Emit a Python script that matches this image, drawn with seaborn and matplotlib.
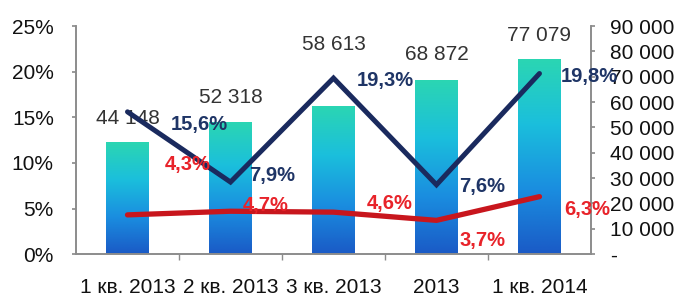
import numpy as np
import pandas as pd
import matplotlib
matplotlib.use('Agg')
import matplotlib.pyplot as plt
from matplotlib.colors import LinearSegmentedColormap
import seaborn as sns

periods = ['1 кв. 2013', '2 кв. 2013', '3 кв. 2013', '2013', '1 кв. 2014']
volume = [44148, 52318, 58613, 68872, 77079]
growth_blue = [15.6, 7.9, 19.3, 7.6, 19.8]
growth_red = [4.3, 4.7, 4.6, 3.7, 6.3]

volume_ticks = [0, 10000, 20000, 30000, 40000, 50000, 60000, 70000, 80000, 90000]
pct_ticks = [0, 5, 10, 15, 20, 25]

# label offsets in pixels (dx, dy) from the data point
volume_offsets = [(0, 24), (0, 24), (0, 61), (0, 25), (0, 23)]
blue_offsets = [(72, -13), (42, 7), (52, -2), (46, -2), (50, -3)]
red_offsets = [(60, 50), (35, 6), (56, 9), (46, -20), (48, -13)]

NAVY = '#1a2a5e'
NAVY_TXT = '#1f3566'
RED = '#c8161d'
RED_TXT = '#e8232a'
GRAY = '#8c8c8c'
FS = 15

sns.set_theme(style='white')
plt.rcParams['font.family'] = ['Liberation Sans', 'DejaVu Sans']

df = pd.DataFrame({'period': periods, 'volume': volume,
                   'blue': growth_blue, 'red': growth_red})

fig = plt.figure(figsize=(6.81, 3.0), dpi=100)
ax = fig.add_axes([0.1116, 0.153, 0.7562, 0.760])

sns.barplot(data=df, x='period', y='volume', ax=ax, width=0.41,
            color='#1a8fe0', saturation=1)

# vertical gradient inside each bar
grad_cmap = LinearSegmentedColormap.from_list(
    'bar', ['#1a5ac6', '#1a8ee0', '#1bbfdc', '#2bd6b2'])
grad = np.linspace(0, 1, 256).reshape(-1, 1)
for patch in list(ax.patches):
    x0, w, h = patch.get_x(), patch.get_width(), patch.get_height()
    img = ax.imshow(grad, extent=[x0, x0 + w, 0, h], origin='lower',
                    aspect='auto', cmap=grad_cmap, zorder=2)
    img.set_clip_path(patch)
    patch.set_facecolor('none')
    patch.set_edgecolor('none')
ax.set_ylim(0, 90000)
ax.set_xlim(-0.5, 4.5)
ax.set_xlabel('')
ax.set_ylabel('')

for i, v in enumerate(volume):
    ax.annotate(f'{v:,}'.replace(',', ' '), (i, v),
                xytext=volume_offsets[i], textcoords='offset pixels',
                ha='center', va='center', fontsize=FS, color='#333333',
                zorder=6)

ax2 = ax.twinx()
sns.lineplot(x=list(range(len(periods))), y=growth_blue, ax=ax2,
             color=NAVY, lw=3.6, solid_capstyle='round',
             solid_joinstyle='miter')
sns.lineplot(x=list(range(len(periods))), y=growth_red, ax=ax2,
             color=RED, lw=3.8, solid_capstyle='round')
ax2.set_ylim(0, 25)
ax2.set_xlim(-0.5, 4.5)
ax2.set_ylabel('')

for i, v in enumerate(growth_blue):
    ax2.annotate(f'{v}%'.replace('.', ','), (i, v),
                 xytext=blue_offsets[i], textcoords='offset pixels',
                 ha='center', va='center', fontsize=FS - 0.5,
                 fontweight='bold', color=NAVY_TXT)
for i, v in enumerate(growth_red):
    ax2.annotate(f'{v}%'.replace('.', ','), (i, v),
                 xytext=red_offsets[i], textcoords='offset pixels',
                 ha='center', va='center', fontsize=FS - 0.5,
                 fontweight='bold', color=RED_TXT)

# volume scale on the right, percent scale on the left
ax.set_yticks(volume_ticks)
ax.set_yticklabels(['-'] + [f'{v:,}'.replace(',', ' ') for v in volume_ticks[1:]])
ax.tick_params(axis='y', which='major', left=False, right=True,
               labelleft=False, labelright=True, length=3, color=GRAY,
               direction='out', labelsize=FS, pad=11, labelcolor='#111111')
ax2.set_yticks(pct_ticks)
ax2.set_yticklabels([f'{p}%' for p in pct_ticks])
ax2.tick_params(axis='y', which='major', left=True, right=False,
                labelleft=True, labelright=False, length=3, color=GRAY,
                direction='out', labelsize=FS, pad=13, labelcolor='#111111')

for a in (ax, ax2):
    a.spines['top'].set_visible(False)
    for s in ('left', 'right', 'bottom'):
        a.spines[s].set_color(GRAY)
        a.spines[s].set_linewidth(1.2)
    a.grid(False)

ax.set_xticks(range(len(periods)))
ax.set_xticklabels(periods)
ax.set_xticks([0.5, 1.5, 2.5, 3.5], minor=True)
ax.tick_params(axis='x', which='major', length=0, labelsize=FS, pad=17,
               labelcolor='#111111')
ax.tick_params(axis='x', which='minor', length=4, color=GRAY, direction='out',
               bottom=True)
ax2.tick_params(axis='x', which='both', bottom=False, labelbottom=False)

fig.savefig('out.png', dpi=100)
